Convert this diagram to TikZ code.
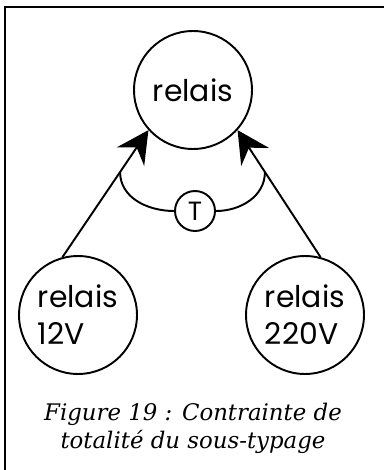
\documentclass[tikz,border=0pt]{standalone}
\usepackage{fontspec}
\newfontfamily\relfont{Poppins}
\newfontfamily\capfont{DejaVu Serif}
\usetikzlibrary{arrows.meta}
\tikzset{
  ent/.style={draw, circle, minimum size=2.36cm, inner sep=0pt, font=\relfont\fontsize{17}{21}\selectfont, align=left},
  sub/.style={draw,-{Stealth[length=0.64cm,width=0.66cm,inset=0.22cm]}}
}
\begin{document}
\begin{tikzpicture}[x=0.02cm,y=-0.02cm,line width=1.1pt]
\useasboundingbox (0,0) rectangle (384,470);
\draw (5,480) -- (5,7) -- (390,7);
\node[ent] (r) at (193,90) {relais};
\node[ent] (r12) at (78,315) {relais\\12V};
\node[ent] (r220) at (305,315) {relais\\220V};
\node[draw, circle, minimum size=0.8cm, inner sep=0pt, font=\relfont\fontsize{15}{17}\selectfont] (t) at (195,211) {T};
\path[sub] (r12.105) -- (r.222) coordinate[pos=0.67] (jl);
\path[sub] (r220.75) -- (r.318) coordinate[pos=0.67] (jr);
\path[draw] (jl) to[out=-90,in=180] (t.west);
\path[draw] (jr) to[out=-90,in=0] (t.east);
\node[font=\capfont\itshape\fontsize{13}{16}\selectfont, align=center] (cap) at (193,428) {Figure 19 : Contrainte de\\totalité du sous-typage};
\end{tikzpicture}
\end{document}
